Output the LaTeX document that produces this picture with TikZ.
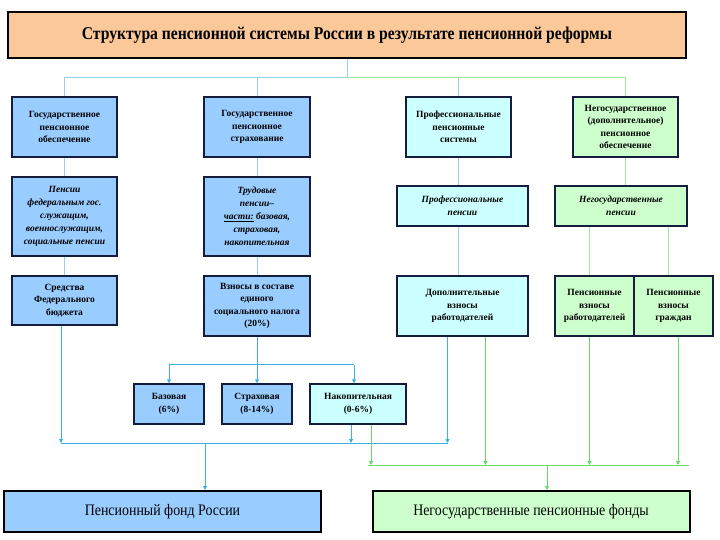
\documentclass[tikz,border=0pt]{standalone}
\usepackage{fontspec}
\setmainfont{Liberation Serif}
\usetikzlibrary{%
	calc,%
	arrows.meta,%
	positioning,%
}
\definecolor{ctitle}{RGB}{251, 201, 153}
\definecolor{cblue}{RGB}{153, 204, 255}
\definecolor{ccyan}{RGB}{204, 255, 255}
\definecolor{cgreen}{RGB}{204, 255, 204}
\definecolor{cnavy}{RGB}{20, 30, 60}
\definecolor{clinkblue}{RGB}{60, 176, 224}
\definecolor{clinkgreen}{RGB}{100, 220, 100}
\definecolor{ctopblue}{RGB}{150, 210, 230}
\definecolor{ctopgreen}{RGB}{160, 230, 160}
\tikzset{
	>={Triangle[length=4pt,width=4pt]},%
	nodes={align=center},%
	titlenode/.style={%
			draw=black,%
			line width=2.5pt,%
			fill=ctitle,%
			minimum width=678pt,%
			minimum height=46pt,%
			font={\fontsize{18}{20}\selectfont\bfseries}},%
	box/.style={%
			draw=cnavy,%
			line width=1.5pt,%
			rectangle,%
			inner sep=1pt,%
			font={\fontsize{9.5}{12.5}\selectfont\bfseries}},%
	bluebox/.style={box, fill=cblue},%
	cyanbox/.style={box, fill=ccyan},%
	greenbox/.style={box, fill=cgreen},%
	pensnode/.style={font={\fontsize{9.5}{13}\selectfont\bfseries\itshape}},%
	fundnode/.style={%
			draw=black,%
			line width=2pt,%
			minimum width=317pt,%
			minimum height=41pt,%
			font={\fontsize{14}{16}\selectfont}},%
	toplink/.style={line width=1pt, ctopblue},%
	topgreen/.style={line width=1pt, ctopgreen},%
	bluelink/.style={line width=1pt, clinkblue},%
	greenlink/.style={line width=1pt, clinkgreen},%
}
\newcommand{\narrowtext}[1]{\scalebox{0.87}[1]{#1}}

\begin{document}
\begin{tikzpicture}[x=1pt, y=-1pt]%
	\useasboundingbox (0,0) rectangle (720,540);

	\node[titlenode] (title) at (347,35) {\narrowtext{Структура пенсионной системы России в результате пенсионной реформы}};

	\node[bluebox, minimum width=105pt, minimum height=60pt] (gos) at (64.5,127) {Государственное\\ пенсионное\\ обеспечение};
	\node[bluebox, minimum width=106pt, minimum height=60pt] (strah) at (257,127) {Государственное\\ пенсионное\\ страхование};
	\node[cyanbox, minimum width=105pt, minimum height=60pt] (prof) at (458.5,127) {Профессиональные\\ пенсионные\\ системы};
	\node[greenbox, minimum width=105pt, minimum height=60pt] (negos) at (625.5,127) {Негосударственное\\ (дополнительное)\\ пенсионное\\ обеспечение};

	\node[bluebox, pensnode, minimum width=105pt, minimum height=79pt] (gospens) at (64.5,216.5) {Пенсии\\ федеральным гос.\\ служащим,\\ военнослужащим,\\ социальные пенсии};
	\node[bluebox, pensnode, minimum width=106pt, minimum height=79pt] (trud) at (257,216.5) {Трудовые\\ пенсии--\\ \underline{части:} базовая,\\ страховая,\\ накопительная};
	\node[cyanbox, pensnode, minimum width=131pt, minimum height=40pt] (profpens) at (462.5,206) {Профессиональные\\ пенсии};
	\node[greenbox, pensnode, minimum width=132pt, minimum height=40pt] (negospens) at (621,206) {Негосударственные\\ пенсии};

	\node[bluebox, minimum width=105pt, minimum height=49pt] (budget) at (64.5,300.5) {Средства\\ Федерального\\ бюджета};
	\node[bluebox, minimum width=106pt, minimum height=60pt] (esn) at (257,306) {Взносы в составе\\ единого\\ социального налога\\ (20\%)};
	\node[cyanbox, minimum width=131pt, minimum height=60pt] (dop) at (462.5,306) {Дополнительные\\ взносы\\ работодателей};
	\node[greenbox, minimum width=79pt, minimum height=60pt] (vznrab) at (594.5,306) {Пенсионные\\ взносы\\ работодателей};
	\node[greenbox, minimum width=79pt, minimum height=60pt] (vzngr) at (673.5,306) {Пенсионные\\ взносы\\ граждан};

	\node[bluebox, minimum width=70pt, minimum height=40pt] (baza) at (169,404) {Базовая\\ (6\%)};
	\node[bluebox, minimum width=70pt, minimum height=40pt] (strahch) at (257,404) {Страховая\\ (8-14\%)};
	\node[cyanbox, minimum width=96pt, minimum height=40pt] (nakop) at (358,404) {Накопительная\\ (0-6\%)};

	\node[fundnode, fill=cblue] (pfr) at (162.5,511.5) {\narrowtext{\fontsize{16}{18}\selectfont Пенсионный фонд России}};
	\node[fundnode, fill=cgreen] (npf) at (531,511.5) {\narrowtext{\fontsize{16}{18}\selectfont Негосударственные пенсионные фонды}};

	\coordinate (topjoin) at ($(title.south)+(0,18)$);
	\coordinate (esnjoin) at ($(esn.south)+(0,28)$);
	\coordinate (pfrjoin) at (205,443);
	\coordinate (npfjoin) at (547,465);

	\draw[toplink] (title) -- (topjoin);
	\draw[toplink] (gos) |- (topjoin);
	\draw[toplink] (strah) |- (topjoin);
	\draw[topgreen] (negos) |- (topjoin);
	\draw[toplink] (prof) -- (prof |- topjoin);

	\draw[toplink] (gos) -- (gospens);
	\draw[toplink] (strah) -- (trud);
	\draw[toplink] (prof.south) -- (prof.south |- profpens.north);
	\draw[topgreen] (negos.south) -- (negos.south |- negospens.north);
	\draw[toplink] (gospens) -- (budget);
	\draw[toplink] (trud) -- (esn);
	\draw[toplink] (prof.south |- profpens.south) -- (prof.south |- dop.north);
	\draw[topgreen] ([xshift=-5.5pt]vznrab.north |- negospens.south) -- ([xshift=-5.5pt]vznrab.north);
	\draw[topgreen] ([xshift=-5.5pt]vzngr.north |- negospens.south) -- ([xshift=-5.5pt]vzngr.north);

	\draw[bluelink, ->] (esn) -- (strahch);
	\draw[bluelink] (baza.north |- esnjoin) -- ([xshift=-4pt]nakop.north |- esnjoin);
	\draw[bluelink, ->] (baza.north |- esnjoin) -- (baza.north);
	\draw[bluelink, ->] ([xshift=-4pt]nakop.north |- esnjoin) -- ([xshift=-4pt]nakop.north);

	\draw[bluelink] ([xshift=-3.5pt]budget.south |- pfrjoin) -- ([xshift=-15pt]dop.south |- pfrjoin);
	\draw[bluelink, ->] ([xshift=-3.5pt]budget.south) -- ([xshift=-3.5pt]budget.south |- pfrjoin);
	\draw[bluelink, ->] ([xshift=-7pt]nakop.south) -- ([xshift=-7pt]nakop.south |- pfrjoin);
	\draw[bluelink, ->] ([xshift=-15pt]dop.south) -- ([xshift=-15pt]dop.south |- pfrjoin);
	\draw[bluelink, ->] (pfrjoin) -- (pfrjoin |- pfr.north);

	\draw[greenlink] ([xshift=10pt]nakop.south |- npfjoin) -- ([xshift=15pt]vzngr.south |- npfjoin);
	\draw[greenlink, ->] ([xshift=13pt]nakop.south) -- ([xshift=13pt]nakop.south |- npfjoin);
	\draw[greenlink, ->] ([xshift=23pt]dop.south) -- ([xshift=23pt]dop.south |- npfjoin);
	\draw[greenlink, ->] ([xshift=-5pt]vznrab.south) -- ([xshift=-5pt]vznrab.south |- npfjoin);
	\draw[greenlink, ->] ([xshift=4.5pt]vzngr.south) -- ([xshift=4.5pt]vzngr.south |- npfjoin);
	\draw[greenlink, ->] (npfjoin) -- (npfjoin |- npf.north);
\end{tikzpicture}
\end{document}
